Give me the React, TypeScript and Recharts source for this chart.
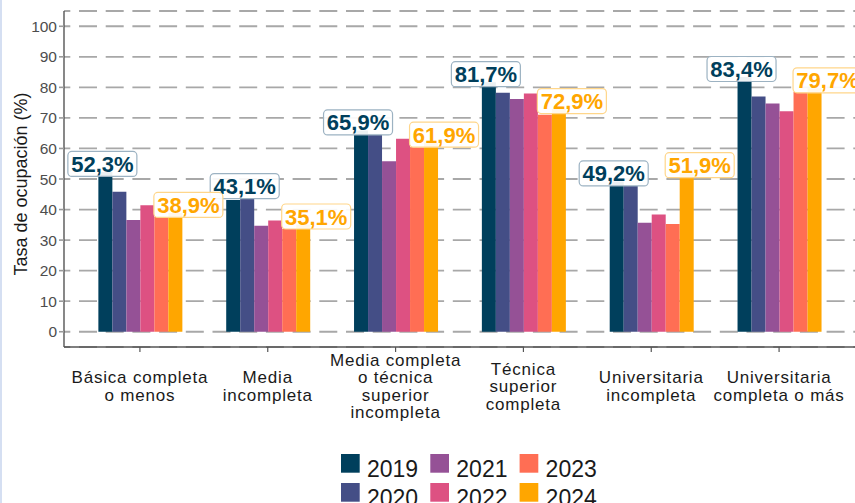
import { BarChart, Bar, XAxis, YAxis, CartesianGrid, Legend } from "recharts";

const FONT = "'Liberation Sans', Arial, Helvetica, sans-serif";

// categorías (eje x), los saltos de línea van en la etiqueta
const categories = [
	"Básica completa\no menos",
	"Media\nincompleta",
	"Media completa\no técnica\nsuperior\nincompleta",
	"Técnica\nsuperior\ncompleta",
	"Universitaria\nincompleta",
	"Universitaria\ncompleta  o más",
];

const years = ["2019", "2020", "2021", "2022", "2023", "2024"];
const colors = ["#003f5c", "#444e86", "#955196", "#dd5182", "#ff6e54", "#ffa600"];

const y2019 = [52.3, 43.1, 65.9, 81.7, 49.2, 83.4];
const y2020 = [45.8, 43.6, 64.8, 78.2, 47.8, 77.0];
const y2021 = [36.6, 34.7, 55.8, 76.2, 35.7, 74.7];
const y2022 = [41.4, 36.4, 63.2, 78.0, 38.4, 72.2];
const y2023 = [37.6, 33.6, 60.4, 71.0, 35.3, 78.5];
const y2024 = [38.9, 35.1, 61.9, 72.9, 51.9, 79.7];

const yTicks = [0, 10, 20, 30, 40, 50, 60, 70, 80, 90, 100];

const series = [y2019, y2020, y2021, y2022, y2023, y2024];

const data = categories.map((cat, i) => {
	const row: Record<string, string | number> = { cat };
	years.forEach((yr, k) => {
		row["y" + yr] = series[k][i];
	});
	return row;
});

const W = 856;
const H = 503;
const PAD = { left: 12, right: 13 };
const LEGEND_H = 60;
const MARGIN = { top: 11, right: 0, bottom: 96, left: 0 };
const CAT_GAP = "17.5%";

function fmt(v: number) {
	return v.toFixed(1).replace(".", ",") + "%";
}

// si la etiqueta de 2019 queda a la altura de la de 2024 de la categoría
// anterior, se desplaza un poco (como hace ggrepel)
function collides(index: number) {
	return index > 0 && Math.abs(y2019[index] - y2024[index - 1]) < 8;
}

function makeValueLabel(color: string, border: string, dx: number, repel: boolean) {
	return (props: any) => {
		const { x, y, width, value, index } = props;
		if (value == null) return null;
		const push = repel && collides(index);
		const cx = Number(x) + Number(width) / 2 + dx + (push ? 14.5 : 0);
		const cy = Number(y) - 8 - (push ? 6 : 0);
		const w = 69;
		const h = 25;
		return (
			<g>
				<rect
					x={cx - w / 2}
					y={cy - h / 2}
					width={w}
					height={h}
					rx={4}
					fill="#ffffff"
					fillOpacity={0.92}
					stroke={border}
					strokeWidth={1.2}
				/>
				<text
					x={cx}
					y={cy + 8}
					textAnchor="middle"
					fontSize={22}
					fontWeight="bold"
					fontFamily={FONT}
					fill={color}
				>
					{fmt(Number(value))}
				</text>
			</g>
		);
	};
}

function CategoryTick(props: any) {
	const { x, y, payload } = props;
	const lines = String(payload.value).split("\n");
	const lh = 17.5;
	const mid = y + 32;
	const start = mid - ((lines.length - 1) * lh) / 2;
	return (
		<text
			x={x}
			textAnchor="middle"
			fontSize={17}
			letterSpacing={0.8}
			fontFamily={FONT}
			fill="#1a1a1a"
		>
			{lines.map((l, i) => (
				<tspan key={i} x={x} y={start + i * lh + 6}>
					{l}
				</tspan>
			))}
		</text>
	);
}

function YTitle() {
	return (
		<text
			x={21}
			y={184}
			transform="rotate(-90 21 184)"
			textAnchor="middle"
			dominantBaseline="central"
			fontSize={18}
			fontFamily={FONT}
			fill="#1a1a1a"
		>
			Tasa de ocupación (%)
		</text>
	);
}

function LegendContent() {
	return (
		<svg width={290} height={LEGEND_H} style={{ overflow: "visible", display: "block" }}>
			{years.map((yr, i) => {
				const col = Math.floor(i / 2);
				const row = i % 2;
				const bx = 1 + col * 89.3;
				const by = 2 + row * 29;
				return (
					<g key={yr}>
						<rect x={bx} y={by} width={18.7} height={18.7} fill={colors[i]} />
						<text
							x={bx + 26}
							y={by + 23}
							fontSize={23}
							fontFamily={FONT}
							fill="#1a1a1a"
						>
							{yr}
						</text>
					</g>
				);
			})}
		</svg>
	);
}

// ejes compartidos por el gráfico base y la capa de etiquetas
function axes(showTicks: boolean) {
	return [
		<XAxis
			key="x"
			dataKey="cat"
			interval={0}
			padding={PAD}
			height={60}
			tick={showTicks ? <CategoryTick /> : false}
			tickSize={5}
			tickMargin={2}
			tickLine={showTicks ? { stroke: "#555555", strokeWidth: 1.2 } : false}
			axisLine={showTicks ? { stroke: "#555555", strokeWidth: 1.4 } : false}
		/>,
		<YAxis
			key="y"
			type="number"
			domain={[-5, 105]}
			allowDataOverflow
			ticks={yTicks}
			interval={0}
			width={64}
			tickSize={5}
			tickMargin={2}
			tick={showTicks ? { fontSize: 15.5, fill: "#4d4d4d", fontFamily: FONT } : false}
			tickLine={showTicks ? { stroke: "#9a9a9a", strokeWidth: 1.6 } : false}
			axisLine={showTicks ? { stroke: "#555555", strokeWidth: 1.4 } : false}
			label={showTicks ? <YTitle /> : undefined}
		/>,
	];
}

export default function App() {
	return (
		<div
			style={{
				position: "absolute",
				left: 0,
				top: 0,
				width: 855,
				height: H,
				overflow: "hidden",
				background: "#ffffff",
			}}
		>
			<div
				style={{
					position: "absolute",
					left: 0,
					top: 0,
					width: 2,
					height: H,
					background: "#d5dff2",
				}}
			/>
			<div style={{ position: "absolute", left: 0, top: 0 }}>
				<BarChart
					width={W}
					height={H}
					data={data}
					margin={{ ...MARGIN, bottom: MARGIN.bottom - LEGEND_H }}
					barCategoryGap={CAT_GAP}
					barGap={0}
				>
					<CartesianGrid
						vertical={false}
						stroke="#a8a8a8"
						strokeWidth={1.8}
						strokeDasharray="18 8.7"
						strokeDashoffset={11.7}
					/>
					{axes(true)}
					<Legend
						content={<LegendContent />}
						wrapperStyle={{ left: 340, top: 452, width: 290, height: LEGEND_H, bottom: "auto" }}
					/>
					{years.map((yr, i) => (
						<Bar
							key={yr}
							dataKey={"y" + yr}
							name={yr}
							fill={colors[i]}
							isAnimationActive={false}
						/>
					))}
				</BarChart>
			</div>
			{/* capa superior: etiquetas de 2019 y 2024 por encima de todas las barras */}
			<div style={{ position: "absolute", left: 0, top: 0, pointerEvents: "none" }}>
				<BarChart
					width={W}
					height={H}
					data={data}
					margin={MARGIN}
					barCategoryGap={CAT_GAP}
					barGap={0}
				>
					{axes(false)}
					{years.map((yr, i) => (
						<Bar
							key={"lab" + yr}
							dataKey={"y" + yr}
							fill="none"
							isAnimationActive={false}
							label={
								i === 0
									? makeValueLabel("#003f5c", "#9cb2c2", -3, true)
									: i === 5
										? makeValueLabel("#ffa600", "#ffd68a", 13, false)
										: false
							}
						/>
					))}
				</BarChart>
			</div>
		</div>
	);
}
